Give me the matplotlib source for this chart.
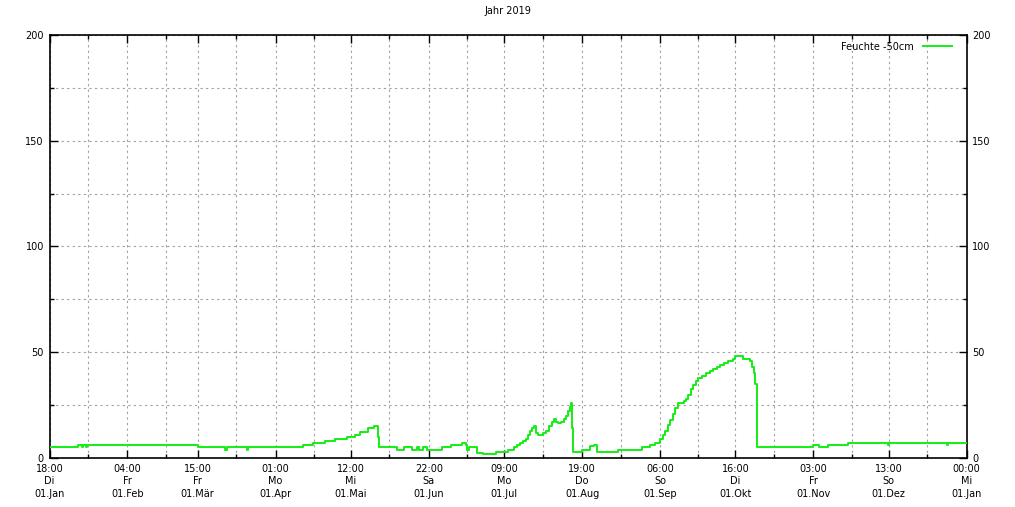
import numpy as np
import matplotlib
matplotlib.use("Agg")
import matplotlib.pyplot as plt

# month starts (days since 01.01.2019) and the gnuplot style labels
month_days = [0, 31, 59, 90, 120, 151, 181, 212, 243, 273, 304, 334, 365]
month_labels = [
    "18:00\nDi\n01.Jan", "04:00\nFr\n01.Feb", "15:00\nFr\n01.Mär",
    "01:00\nMo\n01.Apr", "12:00\nMi\n01.Mai", "22:00\nSa\n01.Jun",
    "09:00\nMo\n01.Jul", "19:00\nDo\n01.Aug", "06:00\nSo\n01.Sep",
    "16:00\nDi\n01.Okt", "03:00\nFr\n01.Nov", "13:00\nSo\n01.Dez",
    "00:00\nMi\n01.Jan",
]

# soil moisture at -50cm, step points (day, value)
day = [0, 11.5, 13, 13.5, 14.5, 15, 59, 69.9, 70.5, 78.5, 79,
       100.8, 105.0, 109.7, 113.7, 118.3, 121.6, 123.6, 126.6, 129.2, 130.6, 131,
       138.4, 141.2, 144.2, 146.2, 147.2, 148.8, 150.2, 156.1, 159.7, 164.1,
       165.8, 166.3, 167, 170.3, 172.4, 177.7, 182.6, 184.9,
       186.1, 187.3, 188.5, 189.7, 190.5, 191.3, 192.1, 192.7, 193.7, 194.5,
       196.6, 197.7, 198.9, 200.1, 201, 201.7, 202.6, 203.6, 204.8, 205.6,
       206.5, 207.2, 207.5, 208, 208.3,
       211.9, 215.2, 216.9, 217.8, 226.4, 236, 239, 241, 243, 244, 245, 246,
       247, 248, 249, 250.1, 252.7, 253.4, 254.3, 255.4, 256.3, 257.4, 258.3,
       259.7, 261.3, 262.9, 264.2, 265.7, 266.9, 268.5, 270.2, 272.2, 272.9,
       276, 278.9, 279.7, 280.3, 281, 281.5,
       304, 306.4, 309.8, 318, 333.9, 334.3, 357.4, 357.8, 365]
feuchte = [5, 6, 5, 6, 5, 6, 5, 4, 5, 4, 5,
           6, 7, 8, 9, 10, 11, 12.5, 14, 15, 10, 5,
           4, 5, 4, 5, 4, 5, 4, 5, 6, 7,
           6, 4, 5, 2.6, 2, 3, 4, 5,
           6, 7, 8, 9, 11, 13, 14, 15, 12, 11,
           12, 13, 15, 17, 18.5, 17, 16.5, 17, 18.5, 20,
           22, 24, 26, 14, 3,
           4, 5.5, 6, 3, 4, 5, 6, 7, 9, 11, 13, 15.5,
           18, 21, 23.5, 26, 27, 28, 30, 32.5, 34.6, 36.5, 38,
           39, 40, 41, 42, 43, 44, 45, 46, 47, 48,
           47, 46, 43, 40, 35, 5,
           6, 5, 6, 7, 6.3, 7, 6.3, 7, 7]

fig = plt.figure(figsize=(10.15, 5.07), dpi=100)
ax = fig.add_axes([49.5 / 1015, 1 - 458 / 507, 917 / 1015, 423 / 507])

ax.step(day, feuchte, where="post", color="#14ee14", lw=1.4,
        label="Feuchte -50cm", zorder=3)

ax.set_xlim(0, 365)
ax.set_ylim(0, 200)

minor_days = [d + 15.3 for d in month_days[:-1]]
ax.set_xticks(month_days, labels=month_labels)
ax.set_xticks(minor_days, minor=True)
ax.set_yticks(np.arange(0, 201, 50))
ax.set_yticks(np.arange(25, 200, 50), minor=True)

ax.tick_params(which="both", direction="in", top=True, right=True,
               labelright=True, width=1, labelsize=7, colors="black")
ax.tick_params(which="major", length=6, pad=4)
ax.tick_params(which="minor", length=3)
for lab in ax.get_xticklabels():
    lab.set_linespacing(1.35)

ax.grid(True, which="both", color="#a0a0a0", linestyle=(0, (2, 3)), lw=0.8)
ax.set_axisbelow(True)
for sp in ax.spines.values():
    sp.set_linewidth(1.2)

ax.set_title("Jahr 2019", fontsize=7, pad=15)
ax.legend(loc="upper right", bbox_to_anchor=(0.9882, 0.993), frameon=False,
          markerfirst=False, fontsize=7, handlelength=3.0, borderaxespad=0,
          handletextpad=0.9)

fig.savefig("out.png", dpi=100)
